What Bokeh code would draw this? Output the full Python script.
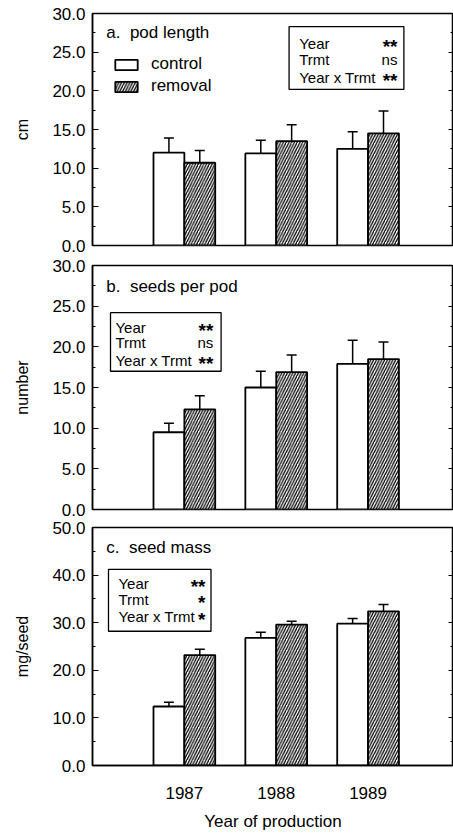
import numpy as np
from bokeh.plotting import figure
from bokeh.models import (ColumnDataSource, Whisker, TeeHead, FixedTicker, NumeralTickFormatter,
                          LinearAxis, Range1d, Label, BoxAnnotation, Legend, LegendItem,
                          CustomLabelingPolicy)
from bokeh.layouts import column
from bokeh.embed import file_html
from bokeh.resources import INLINE

# ---------------- data ----------------
years = ["1987", "1988", "1989"]
treatments = ["control", "removal"]

pod_length_control = [12.0, 11.9, 12.5]
pod_length_control_err = [1.9, 1.7, 2.2]
pod_length_removal = [10.7, 13.5, 14.5]
pod_length_removal_err = [1.6, 2.1, 2.9]

seeds_control = [9.5, 15.0, 17.9]
seeds_control_err = [1.1, 2.0, 2.9]
seeds_removal = [12.3, 16.9, 18.5]
seeds_removal_err = [1.7, 2.1, 2.1]

mass_control = [12.4, 26.8, 29.8]
mass_control_err = [0.9, 1.2, 1.1]
mass_removal = [23.2, 29.6, 32.4]
mass_removal_err = [1.2, 0.7, 1.4]

stat_terms = ["Year", "Trmt", "Year x Trmt"]
stats_a = ["**", "ns", "**"]
stats_b = ["**", "ns", "**"]
stats_c = ["**", "*", "*"]

yticks_ab = [0, 5, 10, 15, 20, 25, 30]
yminor_ab = [2.5, 7.5, 12.5, 17.5, 22.5, 27.5]
yticks_c = [0, 10, 20, 30, 40, 50]
yminor_c = [5, 15, 25, 35, 45]

FONT = "Liberation Sans"
XMAX = 3.93
OFF = 0.168
BW = 0.336

NO_LABELS = CustomLabelingPolicy(code="""
    for (const i of Array.from(indices)) indices.unset(i)
    return indices
""")


def make_panel(height, ymax, ticks, minors, ylabel, ylabel_standoff, ctrl, ctrl_err, rem, rem_err,
               btop, bbottom, show_x):
    p = figure(width=453, height=height, x_range=Range1d(0, XMAX), y_range=Range1d(0, ymax),
               output_backend="svg", toolbar_location=None,
               min_border_left=92, min_border_right=0,
               min_border_top=btop, min_border_bottom=bbottom)
    p.grid.visible = False
    p.outline_line_color = "black"
    p.outline_line_width = 1.5
    p.background_fill_color = "white"
    p.border_fill_color = "white"

    xs = np.arange(1, len(years) + 1)
    src_c = ColumnDataSource(dict(x=xs - OFF, top=ctrl, upper=np.array(ctrl) + np.array(ctrl_err)))
    src_r = ColumnDataSource(dict(x=xs + OFF, top=rem, upper=np.array(rem) + np.array(rem_err)))

    rc = p.vbar(x="x", top="top", width=BW, source=src_c, fill_color="white",
                line_color="black", line_width=1.8)
    rr = p.vbar(x="x", top="top", width=BW, source=src_r, fill_color="white",
                line_color="black", line_width=1.8, hatch_pattern="/",
                hatch_color="black", hatch_scale=5.5, hatch_weight=1.3)

    for src in (src_c, src_r):
        w = Whisker(source=src, base="x", lower="top", upper="upper", dimension="height",
                    line_color="black", line_width=1.5, lower_head=None,
                    upper_head=TeeHead(size=10, line_color="black", line_width=1.5))
        p.add_layout(w)

    # y axis
    yax = p.yaxis[0]
    yax.ticker = FixedTicker(ticks=ticks, minor_ticks=minors)
    yax.formatter = NumeralTickFormatter(format="0.0")
    yax.major_tick_in = 6
    yax.major_tick_out = 0
    yax.minor_tick_in = 3
    yax.minor_tick_out = 0
    yax.axis_line_width = 1.5
    yax.major_tick_line_width = 1.2
    yax.minor_tick_line_width = 1.2
    yax.major_label_text_font = FONT
    yax.major_label_text_font_size = "17px"
    yax.major_label_text_color = "black"
    yax.major_label_standoff = 7
    yax.axis_label = ylabel
    yax.axis_label_text_font = FONT
    yax.axis_label_text_font_size = "16px"
    yax.axis_label_text_font_style = "normal"
    yax.axis_label_text_color = "black"
    yax.axis_label_standoff = ylabel_standoff

    rax = LinearAxis(ticker=FixedTicker(ticks=ticks, minor_ticks=minors),
                     major_label_policy=NO_LABELS,
                     major_label_text_font_size="0px", major_label_standoff=0,
                     axis_label_standoff=0,
                     major_tick_in=5, major_tick_out=0, minor_tick_in=3, minor_tick_out=0,
                     axis_line_width=1.5, major_tick_line_width=1.2, minor_tick_line_width=1.2)
    p.add_layout(rax, "right")

    xax = p.xaxis[0]
    if show_x:
        xax.ticker = FixedTicker(ticks=[int(v) for v in xs], minor_ticks=[])
        xax.major_label_overrides = {int(v): lab for v, lab in zip(xs, years)}
        xax.major_tick_in = 0
        xax.major_tick_out = 0
        xax.minor_tick_in = 0
        xax.minor_tick_out = 0
        xax.axis_line_width = 1.5
        xax.major_label_text_font = FONT
        xax.major_label_text_font_size = "17px"
        xax.major_label_text_color = "black"
        xax.major_label_standoff = 21
        xax.axis_label = "Year of production"
        xax.axis_label_text_font = FONT
        xax.axis_label_text_font_size = "17px"
        xax.axis_label_text_font_style = "normal"
        xax.axis_label_text_color = "black"
        xax.axis_label_standoff = 10
    else:
        xax.visible = False
    return p, rc, rr


def add_title(p, x, y, text):
    p.add_layout(Label(x=x, y=y, text=text, text_font=FONT, text_font_size="17px",
                       text_baseline="middle", text_align="left", text_color="black"))


def add_stats(p, box, left_x, right_x, ys, marks, fsize):
    l, r, b, t = box
    p.add_layout(BoxAnnotation(left=l, right=r, bottom=b, top=t, fill_color="white", fill_alpha=1.0,
                               line_color="black", line_width=1.3, line_alpha=1.0))
    for term, mark, y in zip(stat_terms, marks, ys):
        p.add_layout(Label(x=left_x, y=y, text=term, text_font=FONT, text_font_size=fsize,
                           text_baseline="middle", text_align="left", text_color="black"))
        star = "*" in mark
        p.add_layout(Label(x=right_x, y=y, text=mark, text_font=FONT,
                           text_font_size="19px" if star else fsize,
                           text_baseline="middle", text_align="right", text_color="black",
                           text_font_style="bold" if star else "normal",
                           y_offset=-3 if star else 0))


# panel a
pa, rca, rra = make_panel(255, 30, yticks_ab, yminor_ab, "cm", 18,
                          pod_length_control, pod_length_control_err,
                          pod_length_removal, pod_length_removal_err, 13, 10, False)
add_title(pa, 0.15, 27.5, "a.\u00a0 pod length")
add_stats(pa, (2.14, 3.39, 20.2, 28.3), 2.25, 3.32, [26.1, 24.05, 21.7], stats_a, "15px")
legend = Legend(items=[LegendItem(label=treatments[0], renderers=[rca]),
                       LegendItem(label=treatments[1], renderers=[rra])],
                location=(20, 149), orientation="vertical",
                glyph_width=28, glyph_height=13, label_standoff=11, spacing=2,
                padding=0, margin=0, border_line_alpha=0, background_fill_alpha=0,
                label_text_font=FONT, label_text_font_size="17px", label_text_color="black",
                label_height=13)
pa.add_layout(legend, "center")

# panel b
pb, _, _ = make_panel(263, 30, yticks_ab, yminor_ab, "number", 18,
                      seeds_control, seeds_control_err, seeds_removal, seeds_removal_err,
                      10, 9, False)
add_title(pb, 0.15, 27.4, "b.\u00a0 seeds per pod")
add_stats(pb, (0.196, 1.40, 17.0, 24.2), 0.25, 1.315, [22.4, 20.5, 18.3], stats_b, "15px")

# panel c
pc, _, _ = make_panel(315, 50, yticks_c, yminor_c, "mg/seed", 18,
                      mass_control, mass_control_err, mass_removal, mass_removal_err,
                      9, 67, True)
add_title(pc, 0.15, 45.8, "c.\u00a0 seed mass")
add_stats(pc, (0.174, 1.29, 28.2, 41.2), 0.283, 1.23, [38.3, 34.9, 31.2], stats_c, "15px")

layout = column(pa, pb, pc, spacing=0)
open("out.html", "w").write(file_html(layout, INLINE))
